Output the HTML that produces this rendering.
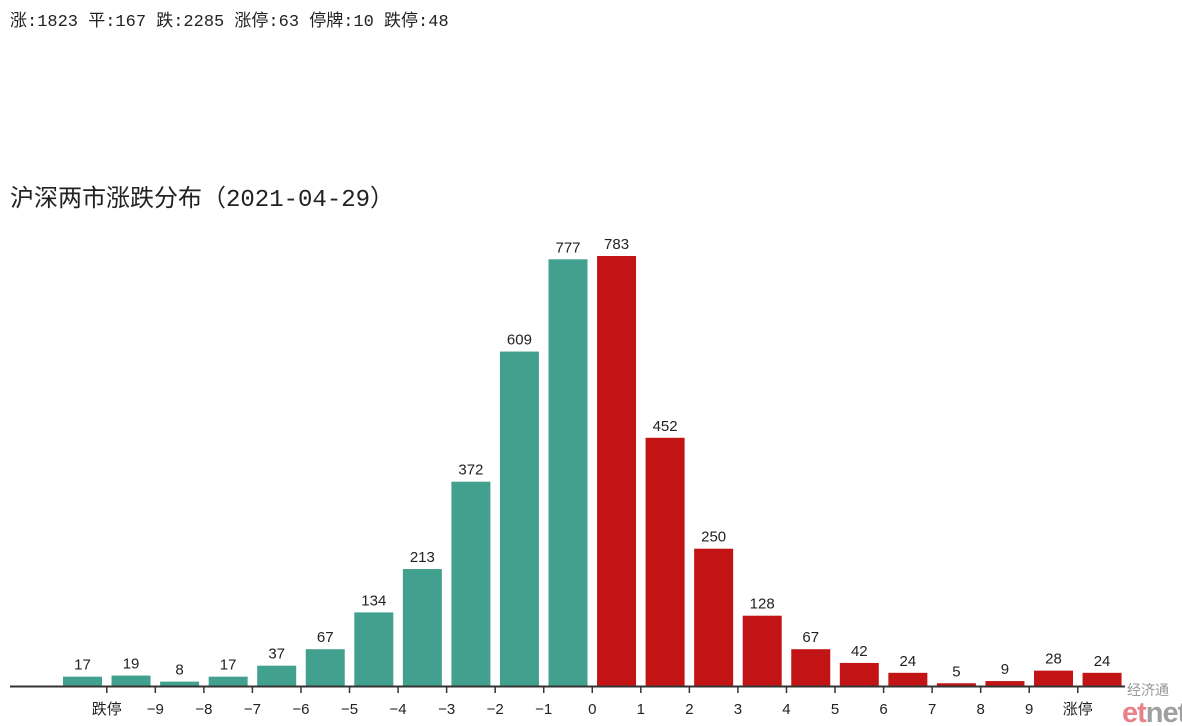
<!DOCTYPE html>
<html><head><meta charset="utf-8"><style>
body{margin:0;background:#fff;width:1182px;height:726px;overflow:hidden;font-family:"Liberation Sans","Noto Sans CJK SC",sans-serif;}
svg{position:absolute;left:0;top:0}
</style></head><body>
<svg width="1182" height="726">
<text x="10" y="26" font-size="17" fill="#222" font-family="'Liberation Mono','Noto Sans CJK SC',monospace">涨:1823 平:167 跌:2285 涨停:63 停牌:10 跌停:48</text>
<text x="10" y="206" font-size="24" fill="#222" font-family="'Liberation Mono','Noto Sans CJK SC',monospace">沪深两市涨跌分布（2021-04-29）</text>
<g id="bars"></g>
<line x1="10" y1="686.5" x2="1125" y2="686.5" stroke="#333" stroke-width="2"/>
<g id="ticks"></g>
<text x="1127" y="695" font-size="14" fill="#999">经济通</text>
<text x="1122" y="722" font-size="29" font-weight="bold" letter-spacing="-1"><tspan fill="#e8828a">et</tspan><tspan fill="#a0a0a0">net</tspan></text>
</svg>
<script>
const values=[17,19,8,17,37,67,134,213,372,609,777,783,452,250,128,67,42,24,5,9,28,24];
const tickLabels=["跌停","−9","−8","−7","−6","−5","−4","−3","−2","−1","0","1","2","3","4","5","6","7","8","9","涨停"];
const NS="http://www.w3.org/2000/svg";
const x0=63,step=48.55,bw=39,base=686,k=430/783;
const xs=i=>x0+i*step, ys=v=>base-v*k;
const gb=document.getElementById('bars'),gt=document.getElementById('ticks');
values.forEach((v,i)=>{
 const r=document.createElementNS(NS,'rect');
 r.setAttribute('x',xs(i));r.setAttribute('y',ys(v));r.setAttribute('width',bw);r.setAttribute('height',v*k);
 r.setAttribute('fill',i<11?'#42a08e':'#c21414');
 
 
 gb.appendChild(r);
 const t=document.createElementNS(NS,'text');
 t.setAttribute('x',xs(i)+bw/2);t.setAttribute('y',ys(v)-7);t.setAttribute('text-anchor','middle');t.setAttribute('font-size','15');t.setAttribute('fill','#222');
 t.textContent=v;
 
 
 gb.appendChild(t);
});
tickLabels.forEach((l,i)=>{
 const x=xs(i)+bw+(step-bw)/2;
 const ln=document.createElementNS(NS,'line');
 ln.setAttribute('x1',x);ln.setAttribute('x2',x);ln.setAttribute('y1',687);ln.setAttribute('y2',693);ln.setAttribute('stroke','#333');ln.setAttribute('stroke-width','1.5');
 
 
 gt.appendChild(ln);
 const t=document.createElementNS(NS,'text');
 t.setAttribute('x',x);t.setAttribute('y',714);t.setAttribute('text-anchor','middle');t.setAttribute('font-size','15');t.setAttribute('fill','#222');
 t.textContent=l;
 
 
 gt.appendChild(t);
});
</script>
</body></html>
